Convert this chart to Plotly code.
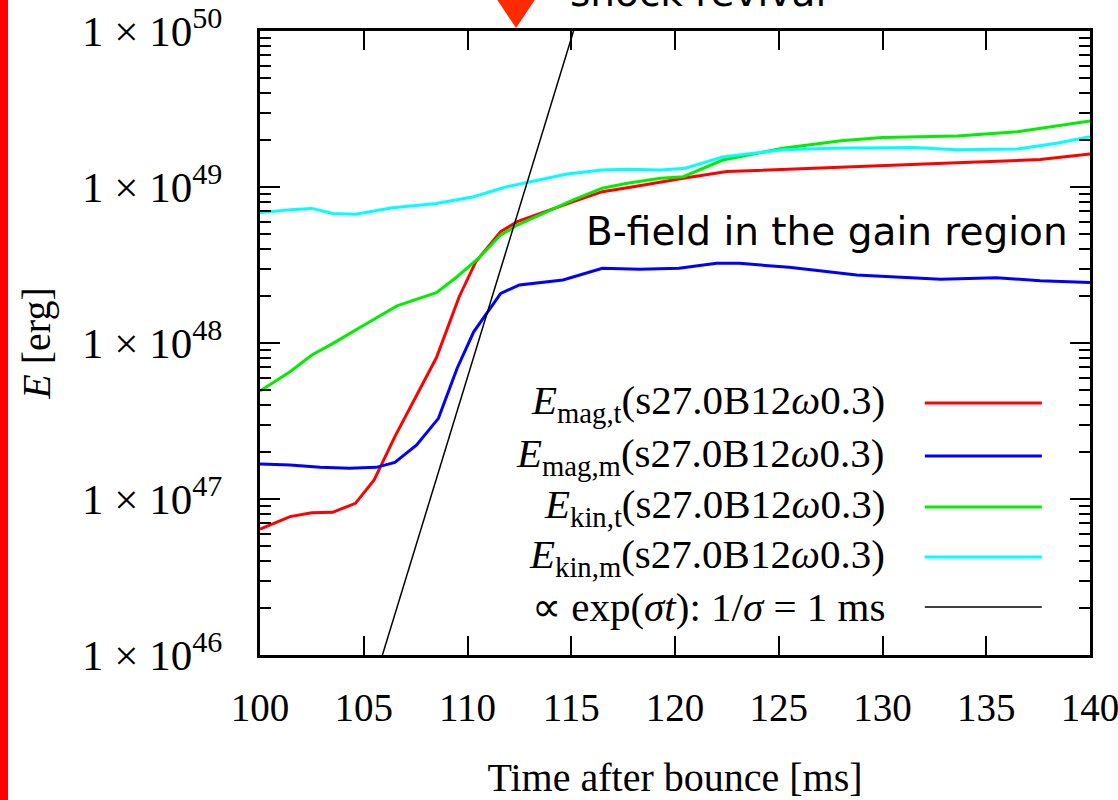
import plotly.graph_objects as go

# ---------------- data ----------------
t_mag_t = [100, 101.45, 102.5, 103.5, 104.6, 105.5, 106.5, 107.55, 108.5, 109.6, 110.4, 111.6,
           112.4, 115.1, 116.5, 118.0, 119.3, 120.4, 122.5, 125.5, 129.5, 133.6, 137.6, 140]
E_mag_t = [6.40e46, 7.71e46, 8.17e46, 8.22e46, 9.38e46, 1.324e47, 2.51e47, 4.65e47, 8.04e47,
           1.98e48, 3.32e48, 5.18e48, 6.00e48, 8.05e48, 9.33e48, 1.005e49, 1.08e49, 1.138e49,
           1.256e49, 1.30e49, 1.35e49, 1.43e49, 1.50e49, 1.63e49]

t_mag_m = [100, 101.45, 102.9, 104.3, 105.6, 106.5, 107.55, 108.6, 109.5, 110.3, 111.6, 112.5,
           114.6, 116.5, 118.3, 120.2, 122.0, 123.1, 125.5, 128.75, 132.8, 135.5, 137.6, 140]
E_mag_m = [1.675e47, 1.652e47, 1.596e47, 1.574e47, 1.596e47, 1.718e47, 2.218e47, 3.289e47,
           6.89e47, 1.18e48, 2.08e48, 2.355e48, 2.535e48, 3.013e48, 2.965e48, 3.013e48,
           3.243e48, 3.243e48, 3.055e48, 2.729e48, 2.559e48, 2.624e48, 2.506e48, 2.438e48]

t_kin_t = [100, 101.45, 102.5, 103.5, 105.0, 106.6, 108.5, 109.5, 110.6, 111.6, 112.4, 113.5,
           115.1, 116.5, 117.7, 119.3, 120.4, 122.3, 125.2, 128.0, 130.0, 133.6, 136.5, 140]
E_kin_t = [4.92e47, 6.55e47, 8.38e47, 9.91e47, 1.30e48, 1.73e48, 2.10e48, 2.66e48, 3.57e48,
           4.92e48, 5.70e48, 6.62e48, 8.26e48, 9.82e48, 1.057e49, 1.138e49, 1.164e49, 1.489e49,
           1.77e49, 1.98e49, 2.08e49, 2.12e49, 2.26e49, 2.65e49]

t_kin_m = [100, 101.5, 102.5, 103.5, 104.6, 106.4, 108.5, 110.3, 111.9, 113.0, 114.8, 116.5,
           117.7, 119.3, 120.5, 122.3, 125.2, 127.6, 129.5, 131.5, 133.6, 136.5, 138.4, 140]
E_kin_m = [6.84e48, 7.16e48, 7.29e48, 6.76e48, 6.68e48, 7.36e48, 7.85e48, 8.67e48, 1.005e49,
           1.08e49, 1.21e49, 1.285e49, 1.30e49, 1.285e49, 1.32e49, 1.56e49, 1.73e49, 1.77e49,
           1.78e49, 1.79e49, 1.73e49, 1.75e49, 1.91e49, 2.10e49]

# exponential growth reference line (1/sigma = 1 ms): straight in log space
t_exp = [105.9, 115.11]
E_exp = [1e46, 1e50]

shock_revival_t = 112.34

x_ticks = [100, 105, 110, 115, 120, 125, 130, 135, 140]
y_ticks = [1e46, 1e47, 1e48, 1e49, 1e50]
y_tick_text = ["1 × 10<sup>46</sup>", "1 × 10<sup>47</sup>", "1 × 10<sup>48</sup>",
               "1 × 10<sup>49</sup>", "1 × 10<sup>50</sup>"]

legend_labels = [
    "<i>E</i><sub>mag,t</sub>(s27.0B12<i>ω</i>0.3)",
    "<i>E</i><sub>mag,m</sub>(s27.0B12<i>ω</i>0.3)",
    "<i>E</i><sub>kin,t</sub>(s27.0B12<i>ω</i>0.3)",
    "<i>E</i><sub>kin,m</sub>(s27.0B12<i>ω</i>0.3)",
    "∝ exp(<i>σt</i>): 1/<i>σ</i> = 1 ms",
]
colors = ["#FF0000", "#0000FF", "#00EE00", "#00FFFF", "#000000"]
widths = [3, 3, 3, 3, 1.5]

# ---------------- figure ----------------
SERIF = "Liberation Serif"
COMIC = "DejaVu Sans"

fig = go.Figure()
series = [(t_mag_t, E_mag_t), (t_mag_m, E_mag_m), (t_kin_t, E_kin_t), (t_kin_m, E_kin_m),
          (t_exp, E_exp)]
for (tx, ey), c, w in zip(series, colors, widths):
    fig.add_trace(go.Scatter(x=tx, y=ey, mode="lines", line=dict(color=c, width=w),
                             showlegend=False, hoverinfo="skip"))

minor_vals = [float(m) * 10.0 ** d for d in range(46, 50) for m in range(2, 10)]

fig.update_layout(
    width=1118, height=800,
    margin=dict(l=260, r=28, t=31, b=145),
    paper_bgcolor="white", plot_bgcolor="white",
    font=dict(family=SERIF, color="black", size=40),
    xaxis=dict(
        range=[100, 140], tickvals=x_ticks, ticks="inside", ticklen=19, tickwidth=2.2,
        tickcolor="black", showline=True, linewidth=3, linecolor="black", mirror="ticks",
        showgrid=False, zeroline=False, tickfont=dict(size=39, family=SERIF),
        ticklabelstandoff=16, ticklabeloverflow="allow", automargin=False,
        title=dict(text="Time after bounce [ms]", font=dict(size=40, family=SERIF), standoff=55),
    ),
    yaxis=dict(
        type="log", range=[46, 50], tickvals=y_ticks, ticktext=y_tick_text,
        ticks="inside", ticklen=20, tickwidth=2.2, tickcolor="black",
        minor=dict(tickvals=minor_vals, ticks="inside", ticklen=11, tickwidth=2.2,
                   tickcolor="black", showgrid=False),
        showline=True, linewidth=3, linecolor="black", mirror="ticks",
        showgrid=False, zeroline=False, tickfont=dict(size=43, family=SERIF),
        ticklabelstandoff=26, ticklabeloverflow="allow", automargin=False,
        title=dict(text="<i>E</i> [erg]", font=dict(size=40, family=SERIF), standoff=20),
    ),
)

# legend drawn as right-aligned text with sample line on the right
row_y = [0.4038, 0.3189, 0.2372, 0.1571, 0.0769]
for lab, c, w, yy in zip(legend_labels, colors, widths, row_y):
    fig.add_annotation(x=0.7554, y=yy, xref="paper", yref="paper", text=lab, showarrow=False,
                       xanchor="right", yanchor="middle", font=dict(size=41, family=SERIF))
    fig.add_shape(type="line", xref="paper", yref="paper", x0=0.801, x1=0.942, y0=yy, y1=yy,
                  line=dict(color=c, width=w))

fig.add_annotation(x=0.976, y=0.678, xref="paper", yref="paper",
                   text="B-field in the gain region", showarrow=False,
                   xanchor="right", yanchor="middle", font=dict(size=39, family=COMIC))

fig.add_annotation(x=0.371, y=1.022, xref="paper", yref="paper", text="shock revival",
                   showarrow=False, xanchor="left", yanchor="bottom",
                   font=dict(size=39, family=COMIC))

# shock revival marker (red triangle)
fig.add_shape(type="path", xref="x", yref="paper",
              path=f"M {shock_revival_t - 1.11} 1.06 L {shock_revival_t + 1.11} 1.06 "
                   f"L {shock_revival_t} 1.0048 Z",
              fillcolor="#FF2A00", line=dict(color="#FF2A00", width=0))

# red bar on the left edge of the page
fig.add_shape(type="rect", xref="paper", yref="paper", x0=-0.32, x1=-0.3036, y0=-0.25, y1=1.06,
              fillcolor="#FF0000", line=dict(width=0))

fig.write_html("out.html")
